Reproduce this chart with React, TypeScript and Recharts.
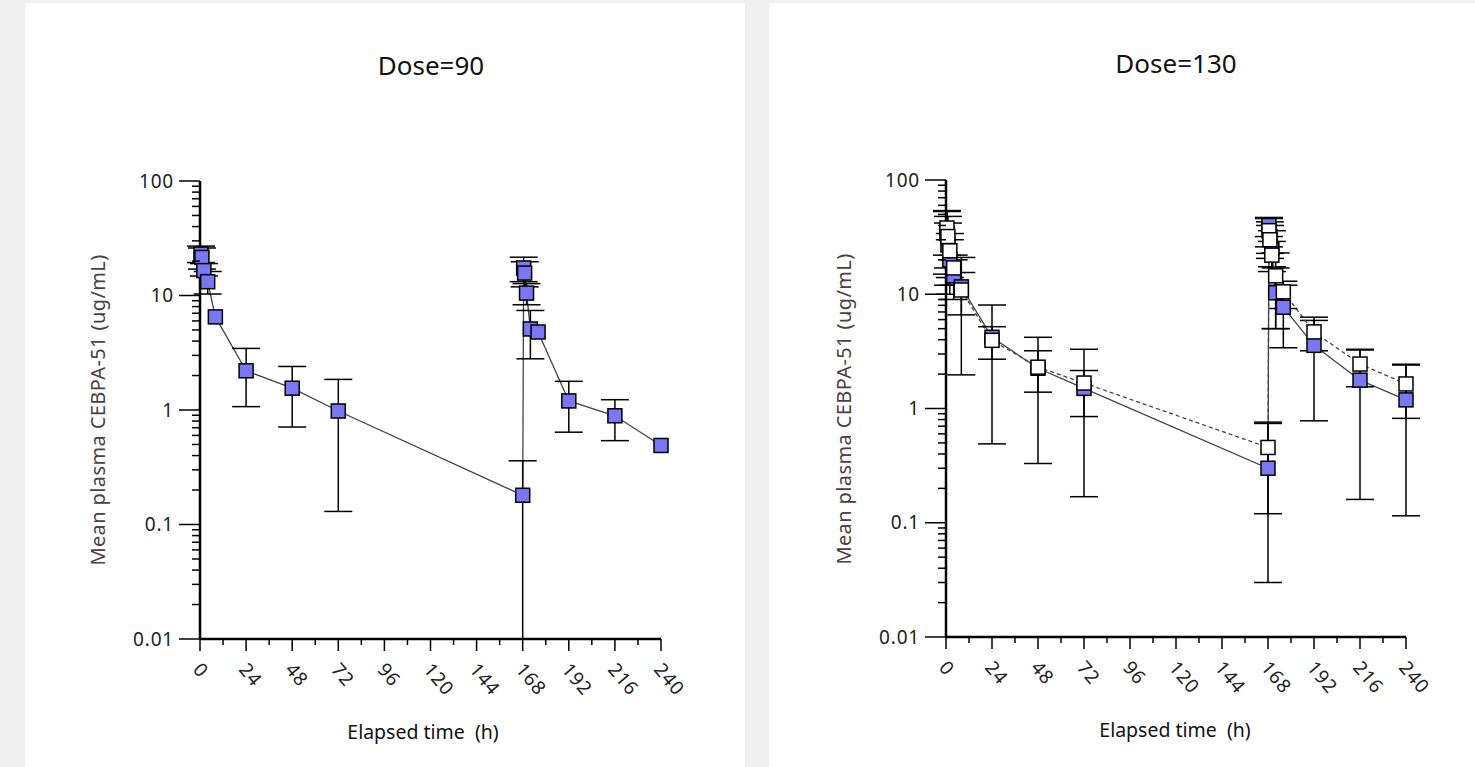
import {
  ComposedChart,
  Line,
  Scatter,
  XAxis,
  YAxis,
  ErrorBar,
} from "recharts";

// Dose=90 : single treatment
const time90 = [0.5, 1, 2, 4, 8, 24, 48, 72, 168, 168.5, 169, 170, 172, 176, 192, 216, 240];
const mean90 = [23, 21.5, 16.5, 13.2, 6.5, 2.2, 1.55, 0.98, 0.18, 17.4, 15.7, 10.5, 5.1, 4.8, 1.2, 0.89, 0.49];
const low90 = [19.4, 17, 14.8, 10.3, null, 1.07, 0.71, 0.13, 0.01, 13.2, 11.9, 8.3, 2.8, null, 0.64, 0.54, null];
const high90 = [27, 26, 19, 16.2, null, 3.45, 2.4, 1.85, 0.36, 21.6, 19.7, 12.7, 7.4, null, 1.78, 1.23, null];

// Dose=130 : filled squares (solid line) and open squares (dashed line)
const time130 = [0.5, 1, 2, 4, 8, 24, 48, 72, 168, 168.5, 169, 170, 172, 176, 192, 216, 240];
const meanFilled = [34, 27, 20, 14.5, 11.6, 4.2, 2.25, 1.5, 0.3, 40, 32, 25, 10.3, 7.7, 3.57, 1.77, 1.19];
const lowFilled = [15, 12, 10, 9, 1.97, 0.49, 0.33, 0.169, 0.03, 32, 22.8, 17.4, 5.0, 3.4, 0.78, 0.16, 0.115];
const highFilled = [53, 42, 30, 20, 21, 8.05, 4.2, 3.3, 0.74, 47, 43, 36, 17, 12, 5.9, 3.25, 2.4];
const meanOpen = [38, 32, 24, 17, 10.9, 3.95, 2.3, 1.67, 0.456, 36, 30, 22, 14.5, 10.5, 4.68, 2.45, 1.64];
const lowOpen = [22, 17, 14, 12, 6.6, 2.7, 1.39, 0.85, 0.12, 26, 20.6, 15.8, 5.0, 7.5, 3.2, 1.55, 0.82];
const highOpen = [54, 48, 34, 22, 15.5, 5.2, 3.2, 2.15, 0.76, 46, 40, 29, 23, 13, 6.3, 3.3, 2.44];

const xTicks = [0, 12, 24, 36, 48, 60, 72, 84, 96, 108, 120, 132, 144, 156, 168, 180, 192, 204, 216, 228, 240];
const yDecades = [0.01, 0.1, 1, 10, 100];
const yTicks = [
  0.01, 0.02, 0.03, 0.04, 0.05, 0.06, 0.07, 0.08, 0.09,
  0.1, 0.2, 0.3, 0.4, 0.5, 0.6, 0.7, 0.8, 0.9,
  1, 2, 3, 4, 5, 6, 7, 8, 9,
  10, 20, 30, 40, 50, 60, 70, 80, 90,
  100,
];

const FONT = "'Segoe UI', 'Noto Sans', sans-serif";
const BLUE = "#7878f4";

type Row = { t: number; y: number; err?: [number, number] };

function buildRows(t: number[], m: number[], lo: (number | null)[], hi: (number | null)[]): Row[] {
  return t.map((tv, i) => {
    const l = lo[i];
    const h = hi[i];
    const row: Row = { t: tv, y: m[i] };
    if (l != null && h != null) row.err = [m[i] - l, h - m[i]];
    return row;
  });
}

const rows90 = buildRows(time90, mean90, low90, high90);
const rowsFilled = buildRows(time130, meanFilled, lowFilled, highFilled);
const rowsOpen = buildRows(time130, meanOpen, lowOpen, highOpen);

const YTick = (props: any) => {
  const { x, y, payload } = props;
  const v = payload.value;
  const major = yDecades.includes(v);
  return (
    <g>
      <line x1={x - (major ? 21 : 8)} x2={x} y1={y} y2={y} stroke="#000" strokeWidth={1.5} />
      {major && (
        <text
          x={x - 26}
          y={y}
          dy="0.35em"
          textAnchor="end"
          fontSize={19}
          letterSpacing={0.8}
          fontFamily={FONT}
          fill="#222"
        >
          {String(v)}
        </text>
      )}
    </g>
  );
};

const XTick = (props: any) => {
  const { x, y, payload } = props;
  const v = payload.value;
  const major = v % 24 === 0;
  const ax = x - 8;
  const ay = y + 31;
  return (
    <g>
      <line x1={x} x2={x} y1={y} y2={y + (major ? 12 : 6)} stroke="#000" strokeWidth={1.5} />
      {major && (
        <text
          x={ax}
          y={ay}
          transform={`rotate(50, ${ax}, ${ay})`}
          textAnchor="start"
          fontSize={19}
          letterSpacing={0.8}
          fontFamily={FONT}
          fill="#222"
        >
          {String(v)}
        </text>
      )}
    </g>
  );
};

const square = (fill: string) => (p: any) => (
  <rect
    key={`${p.cx}-${p.cy}`}
    x={p.cx - 7}
    y={p.cy - 7}
    width={14}
    height={14}
    fill={fill}
    stroke="#000"
    strokeWidth={1.5}
  />
);

function Series({ rows, fill, dash }: { rows: Row[]; fill: string; dash?: string }) {
  return [
    <Line
      key="curve"
      data={rows}
      dataKey="y"
      type="linear"
      stroke="#444"
      strokeWidth={1.3}
      strokeDasharray={dash}
      dot={false}
      activeDot={false}
      isAnimationActive={false}
    />,
    <Scatter key="marks" data={rows} dataKey="y" shape={square(fill)} isAnimationActive={false} />,
    <Line
      key="errs"
      data={rows}
      dataKey="y"
      stroke="none"
      dot={false}
      activeDot={false}
      isAnimationActive={false}
    >
      <ErrorBar dataKey="err" direction="y" width={14} stroke="#000" strokeWidth={1.5} />
    </Line>,
  ];
}

function Panel({
  width,
  marginRight,
  marginBottom,
  top,
  yWidth,
  children,
}: {
  width: number;
  marginRight: number;
  marginBottom: number;
  top: number;
  yWidth: number;
  children: any;
}) {
  return (
    <ComposedChart width={width} height={767} margin={{ top, right: marginRight, bottom: marginBottom, left: 0 }}>
      <XAxis
        dataKey="t"
        type="number"
        domain={[0, 240]}
        ticks={xTicks}
        interval={0}
        height={60}
        tickSize={0}
        tickMargin={0}
        tickLine={false}
        tick={<XTick />}
        axisLine={{ stroke: "#000", strokeWidth: 2.5 }}
      />
      <YAxis
        type="number"
        scale="log"
        domain={[0.01, 100]}
        ticks={yTicks}
        interval={0}
        width={yWidth}
        tickSize={0}
        tickMargin={0}
        tickLine={false}
        tick={<YTick />}
        axisLine={{ stroke: "#000", strokeWidth: 2.5 }}
      />
      {children}
    </ComposedChart>
  );
}

const abs = (l: number, t: number): any => ({ position: "absolute", left: l, top: t });

function Title({ cx, cy, text, size }: { cx: number; cy: number; text: string; size: number }) {
  return (
    <div
      style={{
        ...abs(cx - 200, cy - size * 0.7),
        width: 400,
        textAlign: "center",
        fontFamily: FONT,
        fontSize: size,
        color: "#111",
        whiteSpace: "pre",
      }}
    >
      {text}
    </div>
  );
}

function YLabel({ cx, cy }: { cx: number; cy: number }) {
  return (
    <div
      style={{
        ...abs(cx, cy),
        transform: "translate(-50%, -50%) rotate(-90deg)",
        fontFamily: FONT,
        fontSize: 20,
        letterSpacing: 0.4,
        color: "#4e4040",
        whiteSpace: "nowrap",
      }}
    >
      Mean plasma CEBPA-51 (ug/mL)
    </div>
  );
}

export default function App() {
  return (
    <div style={{ position: "fixed", left: 0, top: 0, width: 1475, height: 767, background: "#f0f0f0", overflow: "hidden" }}>
      <div style={{ ...abs(25, 3), width: 720, height: 764, background: "#fff" }} />
      <div style={{ ...abs(769, 3), width: 706, height: 764, background: "#fff" }} />

      <div style={abs(0, 0)}>
        <Panel width={745} marginRight={84} marginBottom={68} top={181} yWidth={200}>
          {Series({ rows: rows90, fill: BLUE })}
        </Panel>
      </div>
      <div style={abs(745, 0)}>
        <Panel width={730} marginRight={69} marginBottom={70} top={180} yWidth={201}>
          {Series({ rows: rowsFilled, fill: BLUE })}
          {Series({ rows: rowsOpen, fill: "#fff", dash: "4 3" })}
        </Panel>
      </div>

      <Title cx={431} cy={65} text="Dose=90" size={26} />
      <Title cx={1176} cy={63} text="Dose=130" size={26} />
      <Title cx={423} cy={732} text="Elapsed time  (h)" size={19.5} />
      <Title cx={1175} cy={730} text="Elapsed time  (h)" size={19.5} />
      <YLabel cx={97} cy={410} />
      <YLabel cx={843} cy={409} />
    </div>
  );
}
